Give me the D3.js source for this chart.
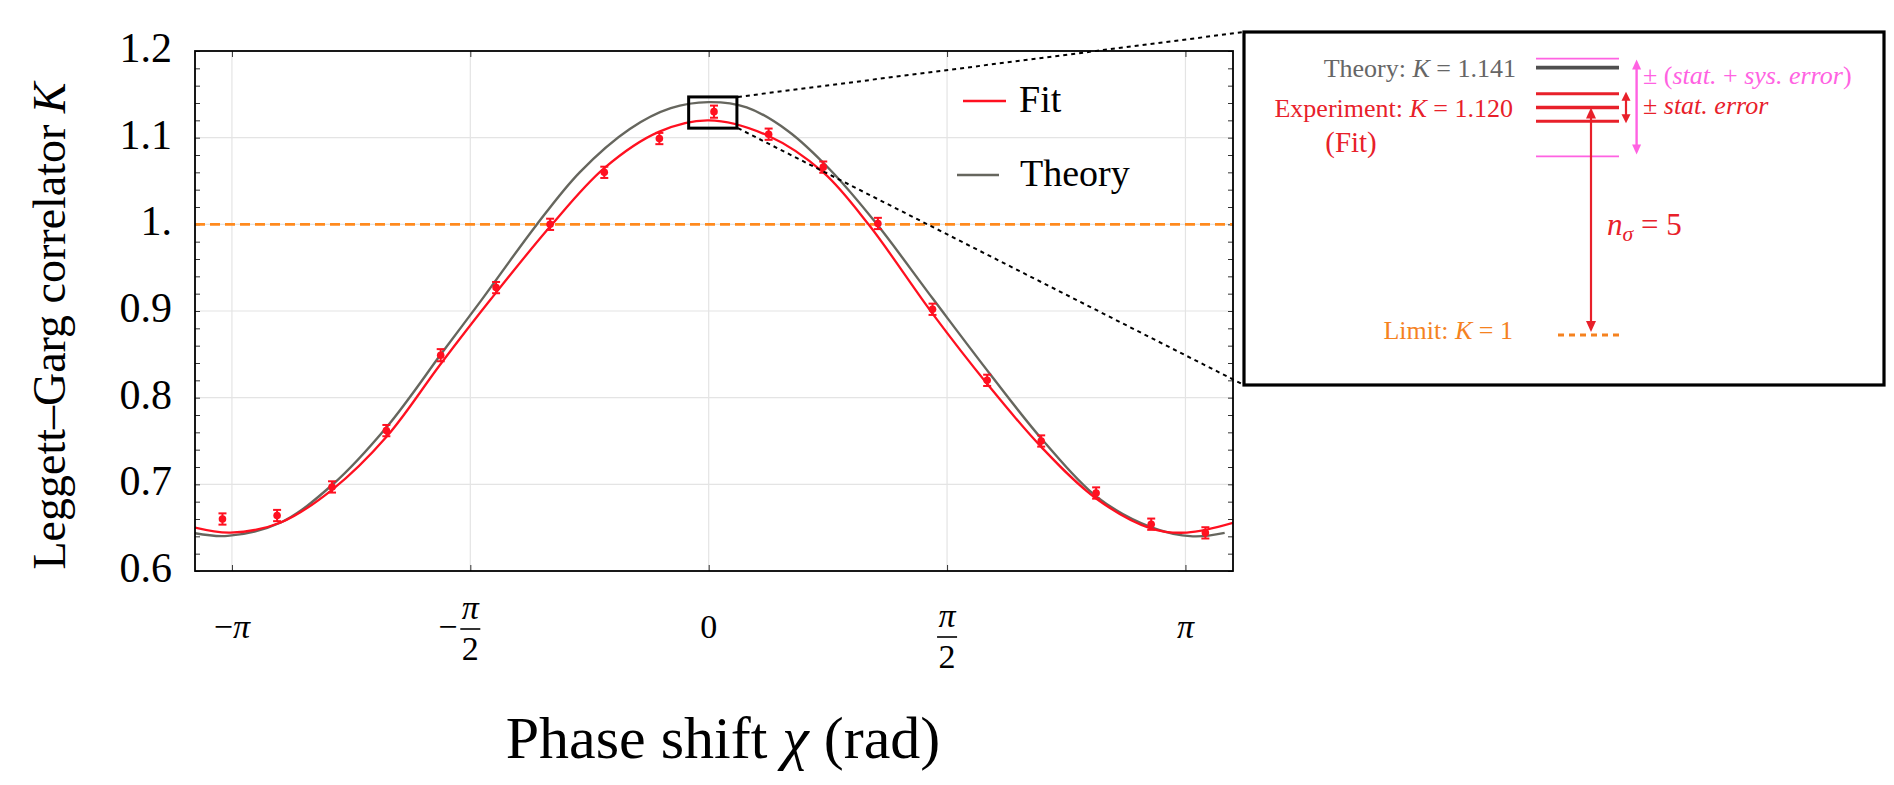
<!DOCTYPE html>
<html><head><meta charset="utf-8">
<script src="https://cdn.jsdelivr.net/npm/d3@7"></script>
<style>
body{margin:0;background:#fff;}
svg{display:block;}
svg text{font-family:"Liberation Serif","DejaVu Serif",serif;}
</style></head><body>
<svg id="chart" width="1894" height="785"></svg>
<script>
// ---------------- data ----------------
const pointChi = [-3.204,-2.844,-2.482,-2.124,-1.766,-1.401,-1.045,-0.688,-0.325,0.035,0.395,0.755,1.115,1.475,1.835,2.191,2.553,2.916,3.273];
const pointK   = [0.660,0.664,0.697,0.762,0.849,0.927,1.000,1.060,1.099,1.130,1.104,1.066,1.001,0.902,0.820,0.750,0.690,0.654,0.644];
const pointErr = [0.0065,0.0065,0.0065,0.0065,0.007,0.0065,0.0065,0.0065,0.0065,0.007,0.0065,0.0065,0.0065,0.0065,0.0065,0.0065,0.0065,0.0065,0.0065];

const theoryChi = [-3.385,-3.17,-2.82,-2.48,-2.12,-1.75,-1.50,-1.136,-0.85,-0.52,-0.25,0,0.25,0.52,0.80,1.10,1.48,1.855,2.206,2.558,2.909,3.19,3.40];
const theoryK   = [0.6435,0.6405,0.6560,0.6995,0.7665,0.8535,0.9120,0.9990,1.0600,1.1100,1.1340,1.1410,1.1350,1.1080,1.0630,1.0020,0.9135,0.8270,0.7500,0.6855,0.6510,0.6400,0.6440];

const fitChi = [-3.385,-3.15,-2.82,-2.48,-2.12,-1.77,-1.44,-1.046,-0.69,-0.325,0,0.395,0.755,1.053,1.475,1.833,2.191,2.553,2.916,3.151,3.455];
const fitK   = [0.6500,0.6443,0.6560,0.6940,0.7555,0.8380,0.9126,0.9972,1.0646,1.1070,1.1200,1.1020,1.0600,1.0000,0.8970,0.8164,0.7432,0.6836,0.6490,0.6443,0.6555];

const limitK = 1.0;
const xDomain = [-3.385, 3.455];
const yDomain = [0.6, 1.2];
const yTickValues = [0.6,0.7,0.8,0.9,1.0,1.1,1.2];
const yTickLabels = ["0.6","0.7","0.8","0.9","1.","1.1","1.2"];
const xTickValues = [-Math.PI,-Math.PI/2,0,Math.PI/2,Math.PI];
const xTickLabels = ["−π","−π/2","0","π/2","π"];
const legendLabels = ["Fit","Theory"];
const zoomChi = [-0.132, 0.186];
const zoomK = [1.111, 1.147];

// inset values
const insetTheoryK = 1.141;
const insetFitK = 1.120;
const insetStatErr = 0.0072;
const insetTotalErr = 0.0258;
const insetSigma = 5;

// ---------------- layout ----------------
const SERIF = '"Liberation Serif","DejaVu Serif",serif';
const plot = {left:195, right:1233, top:51, bottom:571};
const C = {fit:"#ff1020", theory:"#66665e", limit:"#ff8a1e", grid:"#e4e4e4",
           iRed:"#e8202a", iPink:"#ff62e2", iGray:"#666666", iDark:"#4f4f4f", iOrange:"#f5821f"};

const svg = d3.select("#chart");
const x = d3.scaleLinear().domain(xDomain).range([plot.left, plot.right]);
const y = d3.scaleLinear().domain(yDomain).range([plot.bottom, plot.top]);

svg.append("defs").append("clipPath").attr("id","clip")
  .append("rect").attr("x",plot.left).attr("y",plot.top)
  .attr("width",plot.right-plot.left).attr("height",plot.bottom-plot.top);

// grid
const grid = svg.append("g");
grid.selectAll(".vg").data(xTickValues).join("line")
  .attr("x1",d=>x(d)).attr("x2",d=>x(d)).attr("y1",plot.top).attr("y2",plot.bottom)
  .attr("stroke",C.grid).attr("stroke-width",1.2);
grid.selectAll(".hg").data(yTickValues.slice(1,-1)).join("line")
  .attr("x1",plot.left).attr("x2",plot.right).attr("y1",d=>y(d)).attr("y2",d=>y(d))
  .attr("stroke",C.grid).attr("stroke-width",1.2);

// axes ticks (inward)
const minor = y.ticks(30);
const yL = svg.append("g").attr("transform",`translate(${plot.left},0)`)
  .call(d3.axisLeft(y).tickValues(minor).tickFormat("").tickSizeInner(-5).tickSizeOuter(0));
const yR = svg.append("g").attr("transform",`translate(${plot.right},0)`)
  .call(d3.axisRight(y).tickValues(minor).tickFormat("").tickSizeInner(-5).tickSizeOuter(0));
const xB = svg.append("g").attr("transform",`translate(0,${plot.bottom})`)
  .call(d3.axisBottom(x).tickValues(xTickValues).tickFormat("").tickSizeInner(-6).tickSizeOuter(0));
const xT = svg.append("g").attr("transform",`translate(0,${plot.top})`)
  .call(d3.axisTop(x).tickValues(xTickValues).tickFormat("").tickSizeInner(-6).tickSizeOuter(0));
[yL,yR,xB,xT].forEach(g=>{g.select(".domain").remove(); g.selectAll(".tick line").attr("stroke","#333").attr("stroke-width",1);});

// y labels
const yLab = svg.append("g").attr("transform",`translate(${plot.left},0)`)
  .call(d3.axisLeft(y).tickValues(yTickValues).tickFormat((d,i)=>yTickLabels[i]).tickSize(0).tickPadding(23));
yLab.select(".domain").remove();
yLab.attr("font-family",SERIF).attr("font-size",42);
yLab.selectAll("text").attr("font-family",SERIF).attr("font-size",42).attr("dy","0.25em").attr("fill","#000");

// x labels
const xl = svg.append("g").attr("font-size",34).attr("font-family",SERIF);
xTickValues.forEach((v,i)=>{
  const lab = xTickLabels[i];
  const g = xl.append("g").attr("transform",`translate(${x(v)},0)`);
  if (lab.includes("/")) {
    const neg = lab.startsWith("−");
    const bar = neg ? 629 : 637;
    const [num, den] = lab.replace("−","").split("/");
    g.append("text").attr("x",0).attr("y",bar-10).attr("text-anchor","middle").style("font-style","italic").text(num);
    g.append("line").attr("x1",-10).attr("x2",10).attr("y1",bar).attr("y2",bar).attr("stroke","#000").attr("stroke-width",1.6);
    g.append("text").attr("x",0).attr("y",bar+31).attr("text-anchor","middle").text(den);
    if (neg) g.append("text").attr("x",-13).attr("y",bar+9).attr("text-anchor","end").text("−");
  } else {
    const t = g.append("text").attr("x",0).attr("y",638).attr("text-anchor","middle");
    if (lab.startsWith("−")) { t.append("tspan").text("−"); t.append("tspan").style("font-style","italic").text(lab.slice(1)); }
    else if (lab === "π") t.style("font-style","italic").text(lab);
    else t.text(lab);
  }
});

// axis titles
svg.append("text").attr("x",723).attr("y",758).attr("text-anchor","middle").attr("font-size",60).attr("font-family",SERIF)
  .call(t=>{t.append("tspan").text("Phase shift "); t.append("tspan").style("font-style","italic").text("χ"); t.append("tspan").text(" (rad)");});
svg.append("text").attr("transform","translate(65,326) rotate(-90)").attr("text-anchor","middle").attr("font-size",46).attr("font-family",SERIF)
  .call(t=>{t.append("tspan").text("Leggett–Garg correlator "); t.append("tspan").style("font-style","italic").text("K");});

// plot content
const body = svg.append("g").attr("clip-path","url(#clip)");
body.append("line").attr("x1",plot.left).attr("x2",plot.right).attr("y1",y(limitK)).attr("y2",y(limitK))
  .attr("stroke",C.limit).attr("stroke-width",2.6).attr("stroke-dasharray","10,5");

const line = d3.line().x(d=>x(d[0])).y(d=>y(d[1])).curve(d3.curveCatmullRom.alpha(0.5));
body.append("path").datum(d3.zip(theoryChi,theoryK)).attr("d",line)
  .attr("fill","none").attr("stroke",C.theory).attr("stroke-width",2.4);
body.append("path").datum(d3.zip(fitChi,fitK)).attr("d",line)
  .attr("fill","none").attr("stroke",C.fit).attr("stroke-width",2.3);

const pts = body.append("g").selectAll("g").data(d3.zip(pointChi,pointK,pointErr)).join("g");
pts.append("line").attr("x1",d=>x(d[0])).attr("x2",d=>x(d[0]))
  .attr("y1",d=>y(d[1]-d[2])).attr("y2",d=>y(d[1]+d[2])).attr("stroke",C.fit).attr("stroke-width",2);
pts.append("line").attr("x1",d=>x(d[0])-4).attr("x2",d=>x(d[0])+4)
  .attr("y1",d=>y(d[1]-d[2])).attr("y2",d=>y(d[1]-d[2])).attr("stroke",C.fit).attr("stroke-width",2);
pts.append("line").attr("x1",d=>x(d[0])-4).attr("x2",d=>x(d[0])+4)
  .attr("y1",d=>y(d[1]+d[2])).attr("y2",d=>y(d[1]+d[2])).attr("stroke",C.fit).attr("stroke-width",2);
pts.append("circle").attr("cx",d=>x(d[0])).attr("cy",d=>y(d[1])).attr("r",3.8).attr("fill",C.fit);

// frame
svg.append("rect").attr("x",plot.left).attr("y",plot.top).attr("width",plot.right-plot.left)
  .attr("height",plot.bottom-plot.top).attr("fill","none").attr("stroke","#000").attr("stroke-width",1.8);

// legend
const leg = svg.append("g").attr("font-size",38).attr("font-family",SERIF);
leg.append("line").attr("x1",963).attr("x2",1006).attr("y1",101).attr("y2",101).attr("stroke",C.fit).attr("stroke-width",2.3);
leg.append("text").attr("x",1019).attr("y",112).text(legendLabels[0]);
leg.append("line").attr("x1",957).attr("x2",999).attr("y1",175).attr("y2",175).attr("stroke",C.theory).attr("stroke-width",2.4);
leg.append("text").attr("x",1020).attr("y",186).text(legendLabels[1]);

// zoom box + connectors
const inset = {x0:1244, y0:32, x1:1884, y1:385};
svg.append("rect").attr("x",x(zoomChi[0])).attr("y",y(zoomK[1]))
  .attr("width",x(zoomChi[1])-x(zoomChi[0])).attr("height",y(zoomK[0])-y(zoomK[1]))
  .attr("fill","none").attr("stroke","#000").attr("stroke-width",3);
svg.append("line").attr("x1",x(zoomChi[1])+1).attr("y1",y(zoomK[1])).attr("x2",inset.x0).attr("y2",inset.y0)
  .attr("stroke","#000").attr("stroke-width",2).attr("stroke-dasharray","4,4");
svg.append("line").attr("x1",x(zoomChi[1])+1).attr("y1",y(zoomK[0])).attr("x2",inset.x0).attr("y2",inset.y1)
  .attr("stroke","#000").attr("stroke-width",2).attr("stroke-dasharray","4,4");

// inset
const ig = svg.append("g").attr("font-family",SERIF);
ig.append("rect").attr("x",inset.x0).attr("y",inset.y0).attr("width",inset.x1-inset.x0).attr("height",inset.y1-inset.y0)
  .attr("fill","#fff").attr("stroke","#000").attr("stroke-width",3.2);
const iy = d3.scaleLinear().domain([limitK, insetTheoryK]).range([335, 67.7]);
const lx0 = 1536, lx1 = 1619;
function hline(k, color, w) {
  return ig.append("line").attr("x1",lx0).attr("x2",lx1).attr("y1",iy(k)).attr("y2",iy(k))
    .attr("stroke",color).attr("stroke-width",w);
}
function head(xc, yTip, dir, len, wid, color) {
  ig.append("path").attr("d",`M${xc},${yTip} L${xc-wid/2},${yTip-dir*len} L${xc+wid/2},${yTip-dir*len} Z`).attr("fill",color);
}
function darrow(xc, ya, yb, color, w, len, wid) {
  ig.append("line").attr("x1",xc).attr("x2",xc).attr("y1",ya+len*0.8).attr("y2",yb-len*0.8).attr("stroke",color).attr("stroke-width",w);
  head(xc, ya, -1, len, wid, color);
  head(xc, yb, 1, len, wid, color);
}
hline(insetFitK+insetTotalErr, C.iPink, 1.6);
hline(insetFitK-insetTotalErr, C.iPink, 1.6);
hline(insetTheoryK, C.iDark, 3.8);
hline(insetFitK+insetStatErr, C.iRed, 3);
hline(insetFitK, C.iRed, 3.4);
hline(insetFitK-insetStatErr, C.iRed, 3);
ig.append("line").attr("x1",1558).attr("x2",1624).attr("y1",iy(limitK)).attr("y2",iy(limitK))
  .attr("stroke",C.iOrange).attr("stroke-width",3.2).attr("stroke-dasharray","6,5");
darrow(1626, iy(insetFitK+insetStatErr)-2, iy(insetFitK-insetStatErr)+2, C.iRed, 2.2, 9, 9);
darrow(1636.6, iy(insetFitK+insetTotalErr)+1, iy(insetFitK-insetTotalErr)-2, C.iPink, 2.4, 10, 9);
darrow(1591, iy(insetFitK), iy(limitK)-3, C.iRed, 2.2, 11, 10);

const fs = 26;
function mtext(xp, yp, anchor, color, size, parts) {
  const t = ig.append("text").attr("x",xp).attr("y",yp).attr("text-anchor",anchor).attr("fill",color)
    .attr("font-size",size).attr("font-family",SERIF);
  parts.forEach(p=>{
    const s = t.append("tspan").text(p[0]);
    if (p[1]==="i") s.style("font-style","italic");
    if (p[1]==="sub") s.style("font-style","italic").attr("font-size",size*0.7).attr("dy",6);
    if (p[1]==="after") s.attr("dy",-6);
  });
  return t;
}
mtext(1516, iy(insetTheoryK)+9, "end", C.iGray, fs, [["Theory: "],["K","i"],[" = "+insetTheoryK.toFixed(3)]]);
mtext(1513, iy(insetFitK)+9, "end", C.iRed, fs, [["Experiment: "],["K","i"],[" = "+insetFitK.toFixed(3)]]);
mtext(1351, 152, "middle", C.iRed, 29, [["(Fit)"]]);
mtext(1513, iy(limitK)+4, "end", C.iOrange, fs, [["Limit: "],["K","i"],[" = "+limitK]]);
mtext(1643, 84, "start", C.iPink, fs, [["± ("],["stat.","i"],[" + "],["sys. error","i"],[")"]]);
mtext(1643, 114, "start", C.iRed, fs, [["± "],["stat. error","i"]]);
mtext(1607, 235, "start", C.iRed, 31, [["n","i"],["σ","sub"],[" = "+insetSigma,"after"]]);
</script>
</body></html>
